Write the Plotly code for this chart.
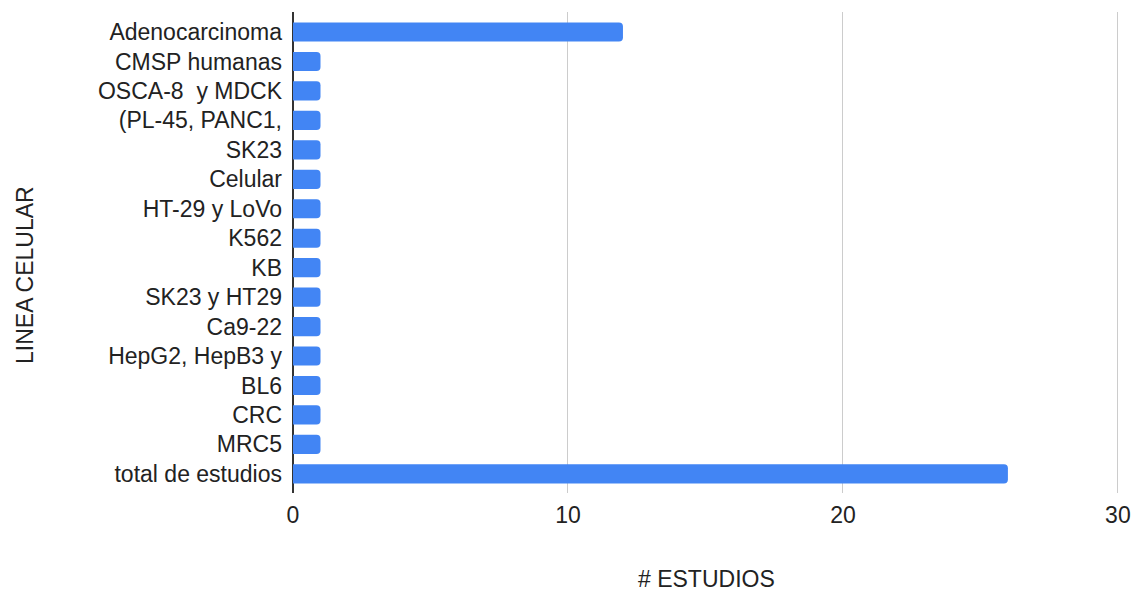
import plotly.graph_objects as go

categories = ["Adenocarcinoma", "CMSP humanas", "OSCA-8  y MDCK", "(PL-45, PANC1,", "SK23",
              "Celular", "HT-29 y LoVo", "K562", "KB", "SK23 y HT29", "Ca9-22",
              "HepG2, HepB3 y", "BL6", "CRC", "MRC5", "total de estudios"]
values = [12, 1, 1, 1, 1, 1, 1, 1, 1, 1, 1, 1, 1, 1, 1, 26]
x_ticks = [0, 10, 20, 30]

W, H = 1132, 592
L, R, T, B = 293, 13, 12, 99
FONT = "Liberation Sans, Arial, sans-serif"
FS = 23
TXT = "#222222"

fig = go.Figure(go.Bar(
    x=values, y=categories, orientation="h",
    marker=dict(color="#4285F4", cornerradius=4, line=dict(width=0)),
    width=0.65,
))

fig.update_layout(
    width=W, height=H,
    margin=dict(l=L, r=R, t=T, b=B, autoexpand=False),
    plot_bgcolor="white", paper_bgcolor="white",
    font=dict(family=FONT, size=FS, color=TXT),
    showlegend=False,
    xaxis=dict(range=[0, 30.04], tickvals=x_ticks, showgrid=True, gridcolor="#cccccc",
               gridwidth=1, zeroline=True, zerolinecolor="#333333", zerolinewidth=1.5,
               showline=False, ticks="", ticklabelstandoff=6, automargin=False,
               tickfont=dict(family=FONT, size=FS, color=TXT)),
    yaxis=dict(type="category", categoryorder="array", categoryarray=categories,
               range=[15.65, -0.68], showgrid=False, zeroline=False, showline=False,
               ticks="", ticklabelstandoff=10, automargin=False,
               tickfont=dict(family=FONT, size=FS, color=TXT)),
    annotations=[
        dict(text="# ESTUDIOS", xref="paper", yref="paper",
             x=(706 - L) / (W - L - R), y=-(579 - (H - B)) / (H - T - B),
             showarrow=False, xanchor="center", yanchor="middle",
             font=dict(family=FONT, size=FS, color=TXT)),
        dict(text="LINEA CELULAR", xref="paper", yref="paper",
             x=-(L - 25) / (W - L - R), y=1 - (275 - T) / (H - T - B),
             showarrow=False, xanchor="center", yanchor="middle", textangle=-90,
             font=dict(family=FONT, size=FS, color=TXT)),
    ],
)

fig.write_html("out.html")
